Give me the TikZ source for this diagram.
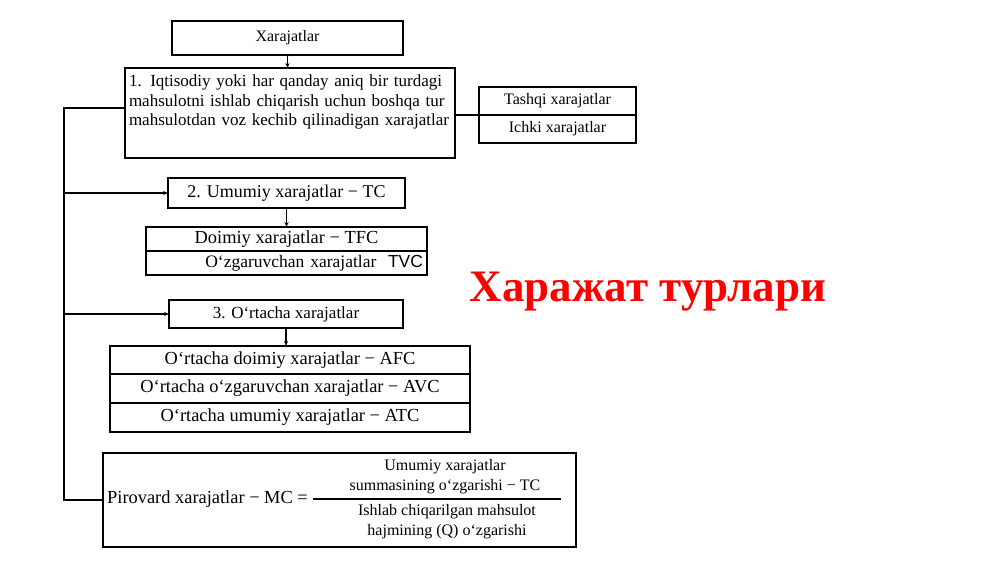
\documentclass[tikz,border=0pt]{standalone}
\usepackage{fontspec}
\setmainfont{Liberation Serif}
\newfontfamily\tvcfont{Liberation Sans}
\usetikzlibrary{positioning}
\usetikzlibrary{calc}
\usetikzlibrary{arrows.meta}
\tikzstyle{block} = [draw, rectangle, line width=1.2pt, inner sep=0pt, outer sep=0pt, font=\fontsize{16}{19}\selectfont]
\tikzstyle{big} = [font=\fontsize{18.4}{22}\selectfont]
\tikzstyle{coord} = [coordinate]
\tikzstyle{lbl} = [inner sep=0pt, font=\fontsize{16}{20}\selectfont]
\tikzstyle{link} = [line width=1.2pt, -{Stealth[length=5pt,width=4pt]}]

\begin{document}
\begin{tikzpicture}[x=1pt,y=-1pt]
    \useasboundingbox (0,0) rectangle (1000,562);
    \node [block, minimum width=231, minimum height=34] (xar) at (287.5,38) {Xarajatlar};
    \node [block, minimum width=330, minimum height=90, text width=322, align=left, font=\fontsize{17}{19.5}\selectfont] (iqt) at (290,113)
        {1. Iqtisodiy yoki har qanday aniq bir turdagi\\ mahsulotni ishlab chiqarish uchun boshqa tur\\ mahsulotdan voz kechib qilinadigan xarajatlar\\[6pt]\mbox{}};
    \node [block, minimum width=157, minimum height=28] (tashqi) at (557.5,101) {Tashqi xarajatlar};
    \node [block, minimum width=157, minimum height=28, below=0pt of tashqi] (ichki) {Ichki xarajatlar};

    \node [block, big, minimum width=237, minimum height=30, font=\fontsize{18}{22}\selectfont] (umumiy) at (286.5,193) {2. Umumiy xarajatlar − TC};
    \node [block, big, minimum width=281, minimum height=24] (doimiy) at (286.5,239) {Doimiy xarajatlar − TFC};
    \node [block, minimum width=281, minimum height=24, text width=273, align=right, font=\fontsize{17.5}{20}\selectfont, below=0pt of doimiy] (ozgar)
        {O‘zgaruvchan xarajatlar\ \ {\tvcfont TVC}};

    \node [block, minimum width=234, minimum height=28, font=\fontsize{17}{20}\selectfont] (ortacha) at (286,314) {3. O‘rtacha xarajatlar};
    \node [block, big, minimum width=360, minimum height=28] (afc) at (290,360) {O‘rtacha doimiy xarajatlar − AFC};
    \node [block, big, minimum width=360, minimum height=29, below=0pt of afc] (avc) {O‘rtacha o‘zgaruvchan xarajatlar − AVC};
    \node [block, big, minimum width=360, minimum height=29, below=0pt of avc] (atc) {O‘rtacha umumiy xarajatlar − ATC};

    \node [block, minimum width=473, minimum height=94] (mc) at (339.5,500) {};
    \node [lbl, big, anchor=west] (mcname) at (107,499) {Pirovard xarajatlar − MC =};
    \node [lbl, align=center] (num) at (445,477) {Umumiy xarajatlar\\ summasining o‘zgarishi − TC};
    \node [lbl, align=center] (den) at (447,522) {Ishlab chiqarilgan mahsulot\\ hajmining (Q) o‘zgarishi};
    \coordinate (barl) at (313,499);
    \coordinate (barr) at (561,499);
    \draw [line width=1.2pt] (barl) -- (barr);

    \node [inner sep=0pt, text=red, font=\fontsize{45}{50}\selectfont\bfseries] (title) at (648,292) {Харажат турлари};

    % connectors
    \coordinate (top) at (64,108);
    \coordinate (bot) at (64,500);
    \draw [link] (xar.south) -- (xar.south |- iqt.north);
    \draw [link] (umumiy.south) -- (umumiy.south |- doimiy.north);
    \draw [link] (ortacha.south) -- (ortacha.south |- afc.north);
    \draw [line width=1.2pt] (top -| iqt.west) -- (top) -- (bot) -- (mc.west);
    \draw [link] (umumiy.west -| top) -- (umumiy.west);
    \draw [link] (ortacha.west -| top) -- (ortacha.west);
    \draw [line width=1.2pt] (iqt.east |- tashqi.south) -- (tashqi.south west);
\end{tikzpicture}
\end{document}
